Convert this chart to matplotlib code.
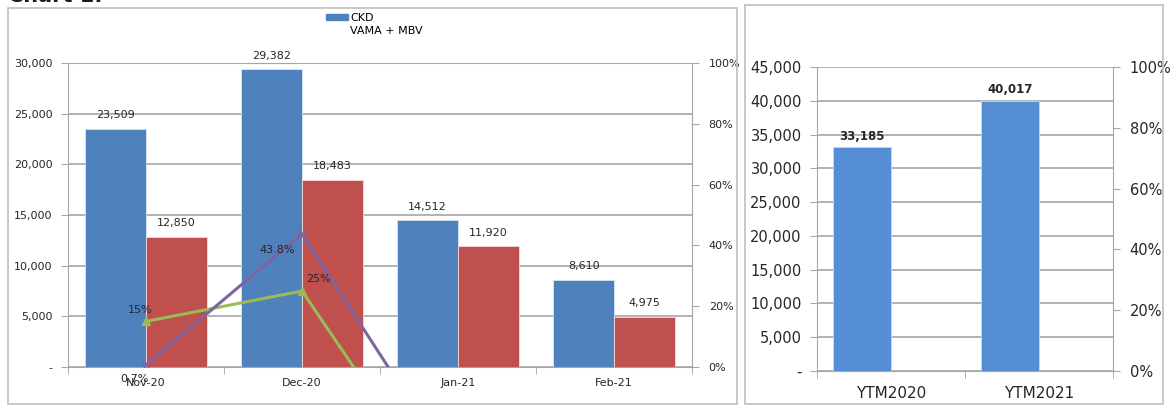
import matplotlib
matplotlib.use("Agg")
import matplotlib.pyplot as plt
import numpy as np
from matplotlib.patches import Rectangle, Patch
from matplotlib.ticker import FuncFormatter, MultipleLocator

plt.rcParams["font.family"] = ["DejaVu Sans"]

# monthly chart
months = ["Nov-20", "Dec-20", "Jan-21", "Feb-21"]
ckd = [23509, 29382, 14512, 8610]
vama_mbv = [12850, 18483, 11920, 4975]
ckd_growth = [0.15, 0.25, -0.506, -0.407]
vama_growth = [0.007, 0.438, -0.355, -0.583]
growth_labels_ckd = ["15%", "25%"]
growth_labels_vama = ["0.7%", "43.8%"]

# year-to-month chart
ytm_labels = ["YTM2020", "YTM2021"]
ytm_values = [33185, 40017]

BLUE = "#4F81BD"
RED = "#C0504D"
GREEN = "#9BBB59"
PURPLE = "#8064A2"
BLUE2 = "#558ED5"
GRID = "#A6A6A6"
TXT = "#262626"


def thousands(v, _pos):
    return "-" if v == 0 else f"{v:,.0f}"


def pct(v, _pos):
    return f"{v * 100:.0f}%"


def style_axes(ax, ax2, fs):
    ax.set_facecolor("none")
    for side in ["top", "right"]:
        ax.spines[side].set_visible(False)
    for side in ["top", "left"]:
        ax2.spines[side].set_visible(False)
    for sp in ["left", "bottom"]:
        ax.spines[sp].set_color(GRID)
    ax2.spines["right"].set_color(GRID)
    ax2.spines["bottom"].set_visible(False)
    ax.yaxis.set_major_formatter(FuncFormatter(thousands))
    ax2.yaxis.set_major_formatter(FuncFormatter(pct))
    ax2.set_ylim(0, 1)
    ax2.yaxis.set_major_locator(MultipleLocator(0.2))
    ax.tick_params(axis="y", colors=GRID, labelcolor=TXT, labelsize=fs, length=5, pad=6)
    ax2.tick_params(axis="y", colors=GRID, labelcolor=TXT, labelsize=fs, length=5, pad=7)
    ax.grid(axis="y", color=GRID, linewidth=1.2)
    ax.set_axisbelow(True)


fig = plt.figure(figsize=(11.7, 4.07), dpi=100)

# panel frames
fig.patches.append(Rectangle((8 / 1170, 3 / 407), 729 / 1170, 396 / 407, transform=fig.transFigure,
                             fill=False, edgecolor="#BFBFBF", linewidth=1.2))
fig.patches.append(Rectangle((745 / 1170, 3 / 407), 418 / 1170, 399 / 407, transform=fig.transFigure,
                             fill=False, edgecolor="#BFBFBF", linewidth=1.2))
fig.text(8 / 1170, 1 - 1.5 / 407, "Chart 1:", fontsize=15, fontweight="bold", va="baseline", color="#1a1a1a")

# ---- left chart ----
ax = fig.add_axes([68 / 1170, 1 - 367 / 407, 624 / 1170, 304 / 407])
ax2 = ax.twinx()
x = np.arange(len(months))
w = 0.39
b1 = ax.bar(x - w / 2, ckd, w, color=BLUE, edgecolor="#D9E3F0", linewidth=0.6, zorder=2)
b2 = ax.bar(x + w / 2, vama_mbv, w, color=RED, edgecolor="#F2DCDB", linewidth=0.6, zorder=2)
for rects, vals in [(b1, ckd), (b2, vama_mbv)]:
    for r, v in zip(rects, vals):
        ax.annotate(f"{v:,}", (r.get_x() + r.get_width() / 2, v), xytext=(0, 6),
                    textcoords="offset points", ha="center", va="bottom", fontsize=8, color=TXT)
ax.set_ylim(0, 30000)
ax.set_xlim(-0.5, len(months) - 0.5)
ax.yaxis.set_major_locator(MultipleLocator(5000))
ax.set_xticks(x)
ax.set_xticklabels(months)
ax.set_xticks(np.arange(-0.5, len(months), 1.0), minor=True)
ax.tick_params(axis="x", which="major", length=0, labelsize=8, labelcolor=TXT, pad=8)
ax.tick_params(axis="x", which="minor", length=5, color=GRID)
style_axes(ax, ax2, 8)
ax.spines["top"].set_visible(True)
ax.spines["top"].set_color(GRID)

ax2.plot(x, ckd_growth, color=GREEN, linewidth=2.2, marker="^", markersize=6, clip_on=True)
ax2.plot(x, vama_growth, color=PURPLE, linewidth=2.2, marker="x", markersize=6, clip_on=True)
ax2.annotate(growth_labels_ckd[0], (x[0], ckd_growth[0]), xytext=(-4, 8), textcoords="offset points",
             ha="center", va="center", fontsize=8, color=TXT)
ax2.annotate(growth_labels_ckd[1], (x[1], ckd_growth[1]), xytext=(12, 8.5), textcoords="offset points",
             ha="center", va="center", fontsize=8, color=TXT)
ax2.annotate(growth_labels_vama[0], (x[0], vama_growth[0]), xytext=(-8, -10), textcoords="offset points",
             ha="center", va="center", fontsize=8, color=TXT)
ax2.annotate(growth_labels_vama[1], (x[1], vama_growth[1]), xytext=(-18, -11.5), textcoords="offset points",
             ha="center", va="center", fontsize=8, color=TXT)

leg = fig.legend(handles=[Patch(color=BLUE), Patch(color="none")], labels=["CKD", "VAMA + MBV"],
                 loc="upper left", bbox_to_anchor=(316 / 1170, 1 - 3 / 407), frameon=False,
                 fontsize=8, handlelength=2.0, handleheight=0.5, handletextpad=0.2, labelspacing=0.25)

# ---- right chart ----
bx = fig.add_axes([817 / 1170, 1 - 371 / 407, 296 / 1170, 304 / 407])
bx2 = bx.twinx()
xr = np.arange(len(ytm_labels))
rb = bx.bar(xr - w / 2, ytm_values, w, color=BLUE2, edgecolor="#C6D9F1", linewidth=0.6, zorder=2)
for r, v in zip(rb, ytm_values):
    bx.annotate(f"{v:,}", (r.get_x() + r.get_width() / 2, v), xytext=(0, 3), textcoords="offset points",
                ha="center", va="bottom", fontsize=8.5, fontweight="bold", color=TXT)
bx.set_ylim(0, 45000)
bx.set_xlim(-0.5, len(ytm_labels) - 0.5)
bx.yaxis.set_major_locator(MultipleLocator(5000))
bx.set_xticks(xr)
bx.set_xticklabels(ytm_labels)
bx.set_xticks(np.arange(-0.5, len(ytm_labels), 1.0), minor=True)
bx.tick_params(axis="x", which="major", length=0, labelsize=11, labelcolor=TXT, pad=11)
bx.tick_params(axis="x", which="minor", length=5, color=GRID)
style_axes(bx, bx2, 10.5)
bx.grid(axis="y", color=GRID, linewidth=1.2)
bx.yaxis.get_gridlines()[-1].set_visible(False)

fig.savefig("out.png", dpi=100, facecolor="white")
